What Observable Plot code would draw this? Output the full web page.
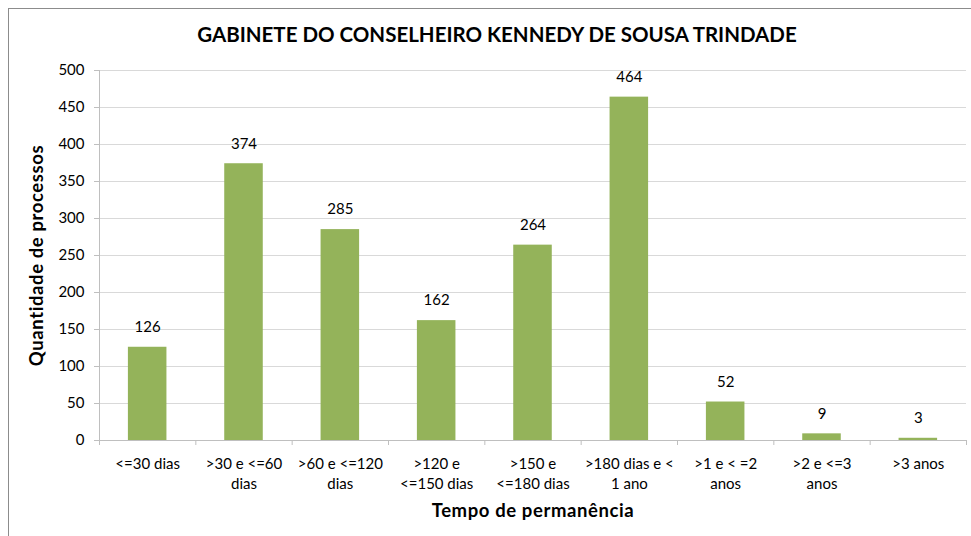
<!DOCTYPE html>
<html>
<head>
<meta charset="utf-8">
<script src="https://cdn.jsdelivr.net/npm/d3@7"></script>
<script src="https://cdn.jsdelivr.net/npm/@observablehq/plot@0.6"></script>
<style>
  html, body { margin: 0; padding: 0; background: #fff; }
  #wrap { position: relative; width: 971px; height: 536px; overflow: hidden; }
  #frame { position: absolute; left: 8px; top: 8px; width: 1000px; height: 600px;
           border-left: 1px solid #8c8c8c; border-top: 1px solid #8c8c8c; }
  #title { position: absolute; left: 0; top: 22px; width: 994px; text-align: center;
           font-family: Lato, "Open Sans", sans-serif; font-weight: 700; font-size: 20.5px;
           color: #000; letter-spacing: 0px; }
  #chart { position: absolute; left: 0; top: 0; }
</style>
</head>
<body>
<div id="wrap">
  <div id="frame"></div>
  <div id="title">GABINETE DO CONSELHEIRO KENNEDY DE SOUSA TRINDADE</div>
  <div id="chart"></div>
</div>
<script>
const categories = ["<=30 dias", ">30 e <=60\ndias", ">60 e <=120\ndias", ">120 e\n<=150 dias", ">150 e\n<=180 dias", ">180 dias e <\n1 ano", ">1 e < =2\nanos", ">2 e <=3\nanos", ">3 anos"];
const values = [126, 374, 285, 162, 264, 464, 52, 9, 3];
const yTicks = [0, 50, 100, 150, 200, 250, 300, 350, 400, 450, 500];
const yLabel = "Quantidade de processos";
const xLabel = "Tempo de permanência";

const data = categories.map((c, i) => ({i, category: c, value: values[i]}));
const font = "Lato, 'Open Sans', sans-serif";

const chart = Plot.plot({
  width: 971,
  height: 536,
  marginLeft: 99,
  marginRight: 5,
  marginTop: 70,
  marginBottom: 96,
  style: {fontFamily: font, fontSize: "15px", color: "#000", background: "transparent"},
  x: {domain: [0, categories.length]},
  y: {domain: [0, 500]},
  marks: [
    Plot.gridY(yTicks, {stroke: "#d9d9d9", strokeOpacity: 1}),
    Plot.ruleX([0], {stroke: "#bfbfbf"}),
    Plot.ruleY([0], {stroke: "#bfbfbf"}),
    Plot.axisY(yTicks, {tickSize: 5, tickPadding: 10, stroke: "#bfbfbf", fill: "#000",
      label: yLabel, labelAnchor: "center", labelArrow: "none", labelOffset: 70,
      fontSize: 15}),
    Plot.axisX(d3.range(categories.length + 1), {tickSize: 5, stroke: "#bfbfbf", tickFormat: () => "", label: null}),
    Plot.axisX(d3.range(categories.length).map(i => i + 0.5), {tickSize: 0, tickPadding: 14,
      tickFormat: t => categories[Math.floor(t)], lineHeight: 1.35, fill: "#000", fontSize: 15,
      label: xLabel, labelAnchor: "center", labelArrow: "none", labelOffset: 76}),
    Plot.rectY(data, {x1: d => d.i + 0.3, x2: d => d.i + 0.7, y: "value", fill: "#94b35a"}),
    Plot.text(data, {x: d => d.i + 0.5, y: "value", text: d => String(d.value), dy: -20, fontSize: 15, fill: "#000"})
  ]
});

// style axis labels bold
chart.querySelectorAll("g[aria-label='x-axis label'] text, g[aria-label='y-axis label'] text").forEach(t => {
  t.setAttribute("font-weight", "700");
  t.setAttribute("font-size", "18.5");
  t.setAttribute("letter-spacing", "0.6");
});
document.getElementById("chart").appendChild(chart);
</script>
</body>
</html>
